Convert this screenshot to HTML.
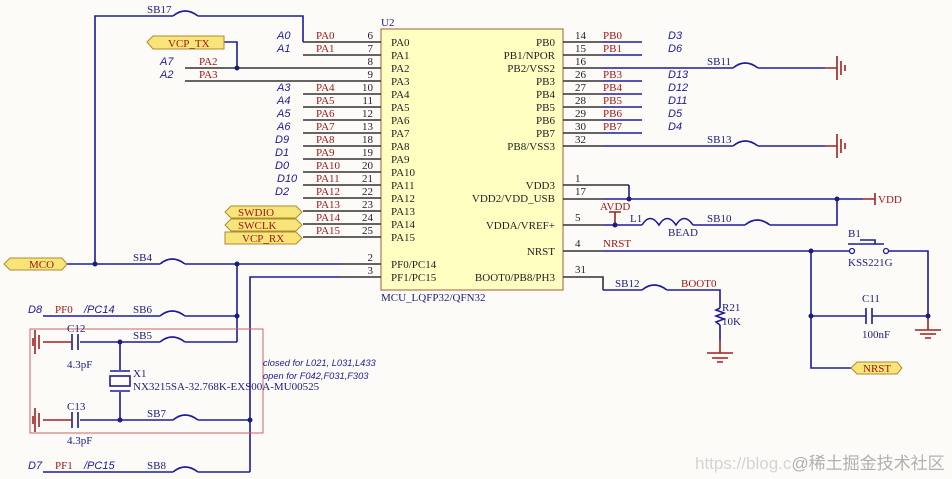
<!DOCTYPE html>
<html><head><meta charset="utf-8"><style>
body{margin:0;background:#fdfbf8}
svg{display:block}
.s{font-family:"Liberation Serif",serif;font-size:11px}
.b{fill:#1c1c7a}.r{fill:#a01818}.k{fill:#222}
.i{font-family:"Liberation Sans",sans-serif;font-style:italic;font-size:11px;fill:#1c1c9a}
.w{stroke:#1c1c9a;stroke-width:1.6;fill:none}
.p{stroke:#333;stroke-width:1.6;fill:none}
.g{stroke:#a02020;stroke-width:1.6;fill:none}
.t{fill:#f7e57a;stroke:#b08a30;stroke-width:1}
</style></head><body>
<svg width="952" height="479" viewBox="0 0 952 479">
<rect x="381" y="29" width="182" height="261" fill="#ffffc2" stroke="#b07850" stroke-width="1.2"/>
<text x="381" y="26" class="s b">U2</text>
<text x="381" y="301" class="s b">MCU_LQFP32/QFN32</text>
<g class="s k">
<text x="391" y="46">PA0</text><text x="391" y="59">PA1</text><text x="391" y="72">PA2</text><text x="391" y="85">PA3</text>
<text x="391" y="98">PA4</text><text x="391" y="111">PA5</text><text x="391" y="124">PA6</text><text x="391" y="137">PA7</text>
<text x="391" y="150">PA8</text><text x="391" y="163">PA9</text><text x="391" y="176">PA10</text><text x="391" y="189">PA11</text>
<text x="391" y="202">PA12</text><text x="391" y="215">PA13</text><text x="391" y="228">PA14</text><text x="391" y="241">PA15</text>
<text x="391" y="268">PF0/PC14</text><text x="391" y="281">PF1/PC15</text>
</g>
<g class="s k" text-anchor="end">
<text x="373" y="39">6</text><text x="373" y="52">7</text><text x="373" y="65">8</text><text x="373" y="78">9</text>
<text x="373" y="91">10</text><text x="373" y="104">11</text><text x="373" y="117">12</text><text x="373" y="130">13</text>
<text x="373" y="143">18</text><text x="373" y="156">19</text><text x="373" y="169">20</text><text x="373" y="182">21</text>
<text x="373" y="195">22</text><text x="373" y="208">23</text><text x="373" y="221">24</text><text x="373" y="234">25</text>
<text x="373" y="261">2</text><text x="373" y="274">3</text>
</g>
<g class="s r">
<text x="316" y="39">PA0</text><text x="316" y="52">PA1</text><text x="199" y="65">PA2</text><text x="199" y="78">PA3</text>
<text x="316" y="91">PA4</text><text x="316" y="104">PA5</text><text x="316" y="117">PA6</text><text x="316" y="130">PA7</text>
<text x="316" y="143">PA8</text><text x="316" y="156">PA9</text><text x="316" y="169">PA10</text><text x="316" y="182">PA11</text>
<text x="316" y="195">PA12</text><text x="316" y="208">PA13</text><text x="316" y="221">PA14</text><text x="316" y="234">PA15</text>
</g>
<g class="i">
<text x="277" y="39">A0</text><text x="277" y="52">A1</text><text x="160" y="65">A7</text><text x="160" y="78">A2</text>
<text x="277" y="91">A3</text><text x="277" y="104">A4</text><text x="277" y="117">A5</text><text x="277" y="130">A6</text>
<text x="275" y="143">D9</text><text x="275" y="156">D1</text><text x="275" y="169">D0</text><text x="277" y="182">D10</text>
<text x="275" y="195">D2</text>
</g>
<g class="p">
<path d="M303 42H381M303 55H381M185 68H381M185 81H381M303 94H381M303 107H381M303 120H381M303 133H381M303 146H381M303 159H381M303 172H381M303 185H381M303 198H381M303 211H381M303 224H381M303 237H381M340 264H381M340 277H381"/>
</g>
<g class="w">
<path d="M303 42V16H198M173 16H95V264"/><path d="M173 16Q185 6 198 16"/>
<path d="M224 42H237V68"/>
<path d="M67 264H160M185 264H340M160 264Q172 254 185 264"/>
<path d="M340 277H250V472"/>
<path d="M237 264V342"/>
<path d="M43 316H160M185 316H237M160 316Q172 306 185 316"/>
<path d="M80 342H160M185 342H237M160 342Q172 332 185 342"/>
<path d="M80 420H173M198 420H250M173 420Q185 410 198 420"/>
<path d="M43 472H173M198 472H250M173 472Q185 462 198 472"/>
<path d="M120 342V370M120 392V420"/>
<path d="M110 371H130M110 391H130"/>
<path d="M72 334V350M78 334V350"/><path d="M72 412V428M78 412V428"/>
</g>
<rect x="110" y="376" width="20" height="10" fill="none" stroke="#1c1c9a" stroke-width="1.6"/>
<g class="g"><path d="M43 342H72M43 420H72M35 330V354M39 335V349M33 338V346M35 408V432M39 413V427M33 416V424"/></g>
<g fill="#1c1c7a"><circle cx="237" cy="68" r="2.5"/><circle cx="95" cy="264" r="2.5"/><circle cx="237" cy="264" r="2.5"/><circle cx="237" cy="316" r="2.5"/><circle cx="120" cy="342" r="2.5"/><circle cx="120" cy="420" r="2.5"/><circle cx="250" cy="420" r="2.5"/></g>
<rect x="30" y="329" width="233" height="104" fill="none" stroke="#d06060" stroke-width="1"/>
<path class="t" d="M147 42L153 36H224V49H153Z"/><text x="168" y="47" class="s r">VCP_TX</text>
<path class="t" d="M225 212L231 206H296L302 212L296 218H231Z"/><text x="238" y="216" class="s r">SWDIO</text>
<path class="t" d="M225 225L231 219H296L302 225L296 231H231Z"/><text x="238" y="229" class="s r">SWCLK</text>
<path class="t" d="M225 232H296L302 238L296 244H225Z"/><text x="242" y="242" class="s r">VCP_RX</text>
<path class="t" d="M4 264L10 258H62L67 264L62 270H10Z"/><text x="29" y="268" class="s r">MCO</text>
<g class="s b"><text x="147" y="13">SB17</text><text x="133" y="261">SB4</text><text x="133" y="313">SB6</text><text x="133" y="339">SB5</text><text x="147" y="417">SB7</text><text x="147" y="469">SB8</text>
<text x="67" y="332">C12</text><text x="67" y="368">4.3pF</text><text x="67" y="410">C13</text><text x="67" y="444">4.3pF</text>
<text x="133" y="377">X1</text><text x="133" y="390">NX3215SA-32.768K-EXS00A-MU00525</text></g>
<text x="28" y="313" class="i">D8</text><text x="55" y="313" class="s r">PF0</text><text x="84" y="313" class="i">/PC14</text>
<text x="28" y="469" class="i">D7</text><text x="55" y="469" class="s r">PF1</text><text x="84" y="469" class="i">/PC15</text>
<text x="263" y="366" class="i" style="font-size:9.3px">closed for L021, L031,L433</text>
<text x="263" y="379" class="i" style="font-size:9.3px">open for F042,F031,F303</text>
<g class="s k" text-anchor="end">
<text x="555" y="46">PB0</text><text x="555" y="59">PB1/NPOR</text><text x="555" y="72">PB2/VSS2</text><text x="555" y="85">PB3</text>
<text x="555" y="98">PB4</text><text x="555" y="111">PB5</text><text x="555" y="124">PB6</text><text x="555" y="137">PB7</text>
<text x="555" y="150">PB8/VSS3</text><text x="555" y="189">VDD3</text><text x="555" y="202">VDD2/VDD_USB</text>
<text x="555" y="229">VDDA/VREF+</text><text x="555" y="255">NRST</text><text x="555" y="281">BOOT0/PB8/PH3</text>
</g>
<g class="s k">
<text x="575" y="39">14</text><text x="575" y="52">15</text><text x="575" y="65">16</text><text x="575" y="78">26</text>
<text x="575" y="91">27</text><text x="575" y="104">28</text><text x="575" y="117">29</text><text x="575" y="130">30</text>
<text x="575" y="143">32</text><text x="575" y="182">1</text><text x="575" y="195">17</text><text x="575" y="221">5</text>
<text x="575" y="247">4</text><text x="575" y="273">31</text>
</g>
<g class="s r">
<text x="603" y="39">PB0</text><text x="603" y="52">PB1</text><text x="603" y="78">PB3</text><text x="603" y="91">PB4</text>
<text x="603" y="104">PB5</text><text x="603" y="117">PB6</text><text x="603" y="130">PB7</text>
<text x="600" y="210">AVDD</text><text x="603" y="247">NRST</text><text x="681" y="287">BOOT0</text><text x="878" y="203">VDD</text>
</g>
<g class="i"><text x="668" y="39">D3</text><text x="668" y="52">D6</text><text x="668" y="78">D13</text><text x="668" y="91">D12</text><text x="668" y="104">D11</text><text x="668" y="117">D5</text><text x="668" y="130">D4</text></g>
<g class="p"><path d="M563 42H603M563 55H603M563 68H603M563 81H603M563 94H603M563 107H603M563 120H603M563 133H603M563 146H603M563 185H629M563 199H603M563 225H603M563 251H603M563 277H603V290"/></g>
<g class="w">
<path d="M603 42H642M603 55H642M603 81H642M603 94H642M603 107H642M603 120H642M603 133H642"/>
<path d="M603 68H733M758 68H825M733 68Q745 58 758 68"/>
<path d="M603 146H733M758 146H825M733 146Q745 136 758 146"/>
<path d="M629 185V199M603 199H863"/>
<path d="M603 225H642M642 225Q650 212 659 225Q667 212 676 225Q684 212 693 225M693 225H745M770 225H837V199M745 225Q757 215 770 225"/>
<path d="M603 251H850M886 251H928V316M811 251V368H851"/>
<path d="M811 316H866M872 316H928"/><path d="M866 308V324M872 308V324"/>
<path d="M603 290H642M667 290H720V308M720 325V340M642 290Q654 280 667 290"/>
<path d="M720 308L716 310L724 313L716 316L724 319L716 322L720 325"/>
<path d="M848 244H884M860 240H875V244"/>
</g>
<circle cx="852" cy="251" r="2.5" fill="#fff" stroke="#1c1c9a" stroke-width="1.3"/><circle cx="886" cy="251" r="2.5" fill="#fff" stroke="#1c1c9a" stroke-width="1.3"/>
<g class="g"><path d="M825 68H837M837 56V80M841 61V75M845 65V71"/><path d="M825 146H837M837 134V158M841 139V153M845 143V149"/>
<path d="M863 199H875M875 193V205"/><path d="M615 212V225M609 212H621"/><path d="M720 340V353M707 353H733M712 358H728M717 362H723"/><path d="M928 316V330M915 330H941M920 334H936M925 338H931"/></g>
<g fill="#1c1c7a"><circle cx="629" cy="199" r="2.5"/><circle cx="837" cy="199" r="2.5"/><circle cx="615" cy="225" r="2.5"/><circle cx="811" cy="251" r="2.5"/><circle cx="811" cy="316" r="2.5"/><circle cx="928" cy="316" r="2.5"/></g>
<g class="s b"><text x="707" y="65">SB11</text><text x="707" y="143">SB13</text><text x="630" y="222">L1</text><text x="668" y="236">BEAD</text><text x="707" y="222">SB10</text>
<text x="615" y="287">SB12</text><text x="722" y="311">R21</text><text x="722" y="325">10K</text><text x="848" y="237">B1</text><text x="848" y="266">KSS221G</text><text x="862" y="302">C11</text><text x="862" y="338">100nF</text></g>
<path class="t" d="M851 368L857 362H897L902 368L897 374H857Z"/><text x="863" y="372" class="s r">NRST</text>
<text x="695" y="469" style="font-family:'Liberation Sans','Noto Sans CJK SC',sans-serif;font-size:17px;fill:#d4d4d4">https://blog.c<tspan fill="#b0b0b0">@稀土掘金技术社区</tspan></text>
</svg>
</body></html>
